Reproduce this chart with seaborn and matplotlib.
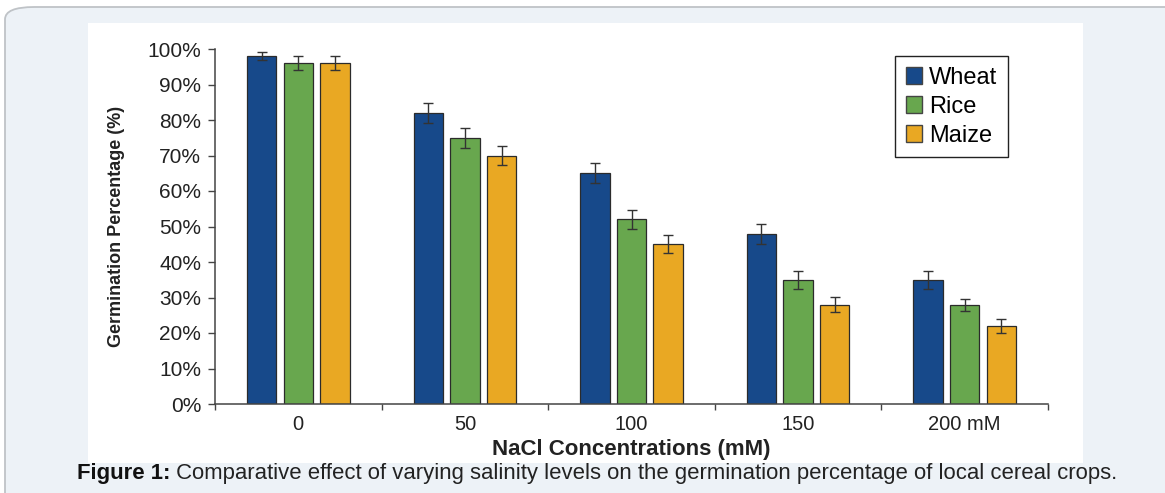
import pandas as pd
import numpy as np
import seaborn as sns
import matplotlib.pyplot as plt
from matplotlib.patches import Patch, FancyBboxPatch, Rectangle
from matplotlib.ticker import PercentFormatter, FixedLocator

concentrations = ["0", "50", "100", "150", "200 mM"]
crops = ["Wheat", "Rice", "Maize"]

wheat = [98, 82, 65, 48, 35]
rice = [96, 75, 52, 35, 28]
maize = [96, 70, 45, 28, 22]

wheat_err = [1.2, 2.8, 2.8, 2.8, 2.6]
rice_err = [2.0, 2.8, 2.6, 2.6, 1.7]
maize_err = [2.0, 2.8, 2.6, 2.2, 1.9]

COLORS = {"Wheat": "#17498a", "Rice": "#68a74e", "Maize": "#e9a823"}

W, H = 1165, 493


def build_frame():
    rows = []
    for crop, vals in zip(crops, [wheat, rice, maize]):
        for conc, v in zip(concentrations, vals):
            rows.append({"conc": conc, "crop": crop, "germ": v})
    return pd.DataFrame(rows)


def main():
    df = build_frame()
    plt.rcParams["font.family"] = ["Liberation Sans", "DejaVu Sans"]

    fig = plt.figure(figsize=(W / 100, H / 100), dpi=100)
    fig.patch.set_facecolor("white")

    # page card (runs off the right and bottom edges) + white panel behind the chart
    card = FancyBboxPatch((5 / W, -0.1), 1.2, (H - 7) / H + 0.1,
                          boxstyle="round,pad=0,rounding_size=0.025",
                          transform=fig.transFigure, facecolor="#edf2f7",
                          edgecolor="#bfc3c7", linewidth=1.3, zorder=-3)
    fig.patches.append(card)
    panel = Rectangle((88 / W, (H - 463) / H), (1083 - 88) / W, (463 - 23) / H,
                      transform=fig.transFigure, facecolor="white",
                      edgecolor="none", zorder=-2)
    fig.patches.append(panel)

    ax = fig.add_axes([215 / W, (H - 404) / H, 833 / W, 355 / H])
    ax.set_facecolor("none")

    sns.barplot(
        data=df, x="conc", y="germ", hue="crop",
        order=concentrations, hue_order=crops,
        palette=COLORS, saturation=1, width=0.66, gap=0.2,
        errorbar=None, edgecolor="#2b2b2b", linewidth=0.9,
        legend=False, ax=ax,
    )

    # error bars from the known spreads
    for container, errs in zip(ax.containers, [wheat_err, rice_err, maize_err]):
        xs = [p.get_x() + p.get_width() / 2 for p in container]
        ys = [p.get_height() for p in container]
        ax.errorbar(xs, ys, yerr=errs, fmt="none", ecolor="#333333",
                    elinewidth=1.0, capsize=3.5, capthick=1.0, zorder=5)

    ax.set_xlim(-0.5, 4.5)
    ax.set_ylim(0, 100)
    ax.set_yticks(np.arange(0, 101, 10))
    ax.yaxis.set_major_formatter(PercentFormatter(100, decimals=0))
    ax.xaxis.set_minor_locator(FixedLocator(np.arange(-0.5, 4.6, 1)))

    for side in ["top", "right"]:
        ax.spines[side].set_visible(False)
    for side in ["left", "bottom"]:
        ax.spines[side].set_color("#444444")
        ax.spines[side].set_linewidth(1.1)

    ax.tick_params(axis="y", direction="out", length=5, width=1, color="#444444",
                   labelsize=15, labelcolor="#222222", pad=5)
    ax.tick_params(axis="x", which="major", length=0, labelsize=14.5,
                   labelcolor="#222222", pad=8)
    ax.tick_params(axis="x", which="minor", direction="out", length=4, width=1,
                   color="#444444")

    ax.set_xlabel("NaCl Concentrations (mM)", fontsize=16, fontweight="bold",
                  color="#222222")
    ax.xaxis.set_label_coords(0.5, -0.098)
    ax.set_ylabel("Germination Percentage (%)", fontsize=13, fontweight="bold",
                  color="#222222")
    ax.yaxis.set_label_coords(-0.108, 0.5)

    handles = [Patch(facecolor=COLORS[c], edgecolor="#444444", label=c) for c in crops]
    ax.legend(handles=handles, loc="upper left",
              bbox_to_anchor=(895 / W, 1 - 56 / H), bbox_transform=fig.transFigure,
              frameon=True, fancybox=False, edgecolor="#222222", framealpha=1,
              fontsize=17, handlelength=0.7, handleheight=0.7, handletextpad=0.3,
              labelspacing=0.3, borderpad=0.45, borderaxespad=0)
    ax.get_legend().get_frame().set_linewidth(1.0)

    t1 = fig.text(77 / W, 1 - 474 / H, "Figure 1:", fontsize=15.9,
                  fontweight="bold", va="center", ha="left", color="#111111")
    ax.annotate(" Comparative effect of varying salinity levels on the germination "
                "percentage of local cereal crops.",
                xy=(1, 0), xycoords=t1, va="bottom", ha="left",
                fontsize=15.9, color="#222222", annotation_clip=False)

    plt.savefig("out.png", dpi=100)


if __name__ == "__main__":
    main()
